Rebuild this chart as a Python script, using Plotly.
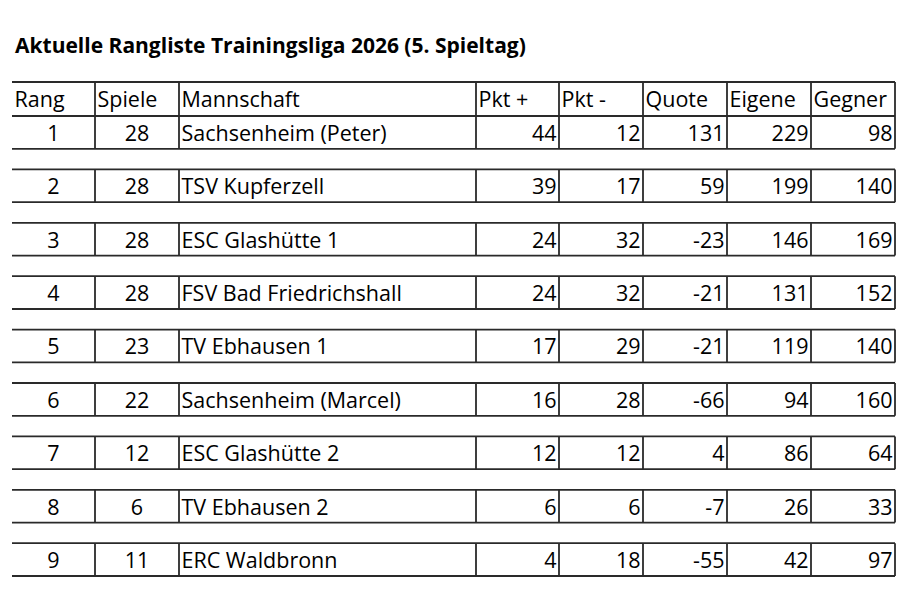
import plotly.graph_objects as go

# ---- data ----
headers = ["Rang", "Spiele", "Mannschaft", "Pkt +", "Pkt -", "Quote", "Eigene", "Gegner"]
rang = [1, 2, 3, 4, 5, 6, 7, 8, 9]
spiele = [28, 28, 28, 28, 23, 22, 12, 6, 11]
mannschaft = ["Sachsenheim (Peter)", "TSV Kupferzell", "ESC Glashütte 1", "FSV Bad Friedrichshall",
              "TV Ebhausen 1", "Sachsenheim (Marcel)", "ESC Glashütte 2", "TV Ebhausen 2", "ERC Waldbronn"]
pkt_plus = [44, 39, 24, 24, 17, 16, 12, 6, 4]
pkt_minus = [12, 17, 32, 32, 29, 28, 12, 6, 18]
quote = [131, 59, -23, -21, -21, -66, 4, -7, -55]
eigene = [229, 199, 146, 131, 119, 94, 86, 26, 42]
gegner = [98, 140, 169, 152, 140, 160, 64, 33, 97]
title = "Aktuelle Rangliste Trainingsliga 2026 (5. Spieltag)"

columns = [rang, spiele, mannschaft, pkt_plus, pkt_minus, quote, eigene, gegner]

# ---- layout (pixel geometry) ----
col_edges = [12, 95, 179, 476, 559, 643, 727, 811, 895]
align = ["center", "center", "left", "right", "right", "right", "right", "right"]
header_top, header_bot = 82, 116
row_top0, row_pitch, row_h = 116, 53.4, 32.8
FONT = "Open Sans, Calibri, sans-serif"
FS = 21.5
LINE = dict(color="#2a2a2a", width=1.8)

fig = go.Figure()

def xpos(ci, al):
    if al == "left":
        return col_edges[ci] + 2.5, "middle right"
    if al == "right":
        return col_edges[ci + 1] - 2.5, "middle left"
    return (col_edges[ci] + col_edges[ci + 1]) / 2, "middle center"

shapes = []

def row_lines(top, bot):
    shapes.append(dict(type="line", x0=col_edges[0], x1=col_edges[-1], y0=top, y1=top, line=LINE))
    shapes.append(dict(type="line", x0=col_edges[0], x1=col_edges[-1], y0=bot, y1=bot, line=LINE))
    for e in col_edges[1:]:
        shapes.append(dict(type="line", x0=e, x1=e, y0=top, y1=bot, line=LINE))

# header
row_lines(header_top, header_bot)
hy = (header_top + header_bot) / 2 + 3
for ci, h in enumerate(headers):
    x, pos = xpos(ci, "left")
    fig.add_trace(go.Scatter(x=[x], y=[hy], mode="text", text=[h], textposition=pos,
                             textfont=dict(family=FONT, size=FS, color="black"),
                             hoverinfo="skip", showlegend=False))

# body
n = len(rang)
tops = [row_top0 + i * row_pitch for i in range(n)]
for t in tops:
    row_lines(t, t + row_h)
ys = [t + row_h / 2 + 3 for t in tops]
for ci, col in enumerate(columns):
    x, pos = xpos(ci, align[ci])
    fig.add_trace(go.Scatter(x=[x] * n, y=ys, mode="text", text=[str(v) for v in col],
                             textposition=pos,
                             textfont=dict(family=FONT, size=FS, color="black"),
                             hoverinfo="skip", showlegend=False))

fig.update_layout(
    width=900, height=600,
    margin=dict(l=0, r=0, t=0, b=0),
    paper_bgcolor="white", plot_bgcolor="white",
    xaxis=dict(range=[0, 900], visible=False, fixedrange=True),
    yaxis=dict(range=[600, 0], visible=False, fixedrange=True),
    shapes=shapes,
    title=dict(text="<b>" + title + "</b>", x=15 / 900, xanchor="left",
               y=1 - 46 / 600, yanchor="middle", yref="container",
               font=dict(family=FONT, size=21, color="black")),
)

fig.write_html("out.html", config={"displayModeBar": False},
               post_script="document.body.style.margin='0';")
